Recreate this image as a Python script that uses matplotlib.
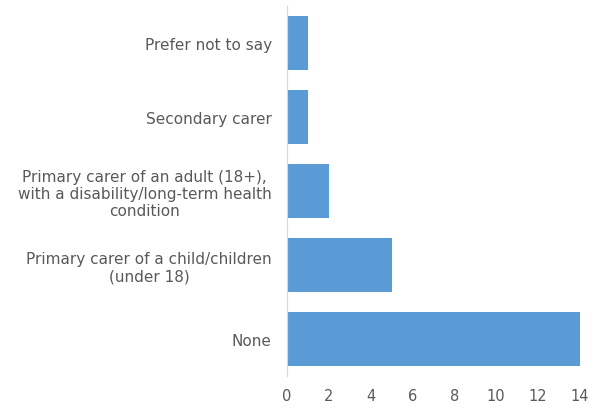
import matplotlib.pyplot as plt

categories = [
    "None",
    "Primary carer of a child/children\n(under 18)",
    "Primary carer of an adult (18+),\nwith a disability/long-term health\ncondition",
    "Secondary carer",
    "Prefer not to say",
]
counts = [14, 5, 2, 1, 1]
x_ticks = [0, 2, 4, 6, 8, 10, 12, 14]

plt.rcParams["font.family"] = ["DejaVu Sans"]

fig = plt.figure(figsize=(5.96, 4.10), dpi=100)
ax = fig.add_axes([0.4815, 0.0805, 0.4915, 0.9025])

ax.barh(range(len(categories)), counts, height=0.72, color="#5B9BD5")
ax.set_ylim(-0.5, len(categories) - 0.5)
ax.set_xlim(0, 14)
ax.set_xticks(x_ticks)
ax.set_yticks(range(len(categories)))
ax.set_yticklabels(categories, multialignment="center", linespacing=1.15)

for side in ["top", "right", "bottom"]:
    ax.spines[side].set_visible(False)
ax.spines["left"].set_color("#D9D9D9")
ax.tick_params(axis="both", length=0, colors="#595959")
ax.tick_params(axis="y", pad=11, labelsize=11)
ax.tick_params(axis="x", pad=9, labelsize=10.5)

fig.savefig("out.png", dpi=100)
